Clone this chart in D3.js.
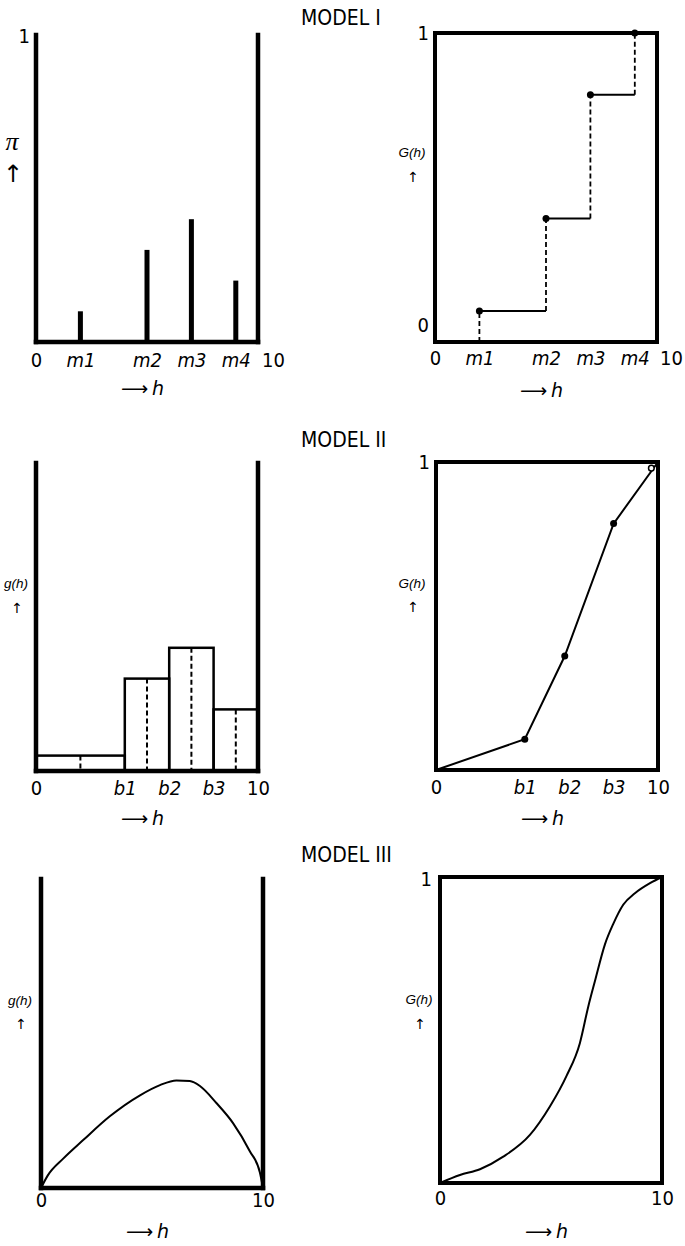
<!DOCTYPE html>
<html>
<head>
<meta charset="utf-8">
<script src="https://cdn.jsdelivr.net/npm/d3@7"></script>
<style>
  body { margin: 0; background: #fff; }
  text { font-family: "DejaVu Sans Condensed", "DejaVu Sans", sans-serif; fill: #000; }
</style>
</head>
<body>
<div id="chart"></div>
<script>
const [width, height] = [685, 1246];

// Model I: discrete masses pi at m1..m4 and the step cdf G(h)
const modelIPos = [2, 5, 7, 9];
const modelIProb = [0.10, 0.30, 0.40, 0.20];
const modelICum = [0.10, 0.40, 0.80, 1.00];
const modelITicks = [0, 2, 5, 7, 9, 10];
const modelITickLabels = ["0", "m1", "m2", "m3", "m4", "10"];

// Model II: histogram density g(h) with breakpoints b1..b3, piecewise linear G(h)
const modelIIEdges = [0, 4, 6, 8, 10];
const modelIIDensity = [0.05, 0.30, 0.40, 0.20];
const modelIIMids = [2, 5, 7, 9];
const modelIITickLabels = ["0", "b1", "b2", "b3", "10"];
const modelIIcdfH = [0, 4, 5.8, 8, 10];
const modelIIcdfG = [0, 0.10, 0.37, 0.80, 1.00];
const modelIIOpen = [9.7, 0.98];

// Model III: smooth density g(h) and smooth cdf G(h)
const modelIIIDensH = [0, 0.3, 1.0, 1.9, 3.1, 4.46, 5.36, 6.1, 6.7, 7.16, 7.9, 8.65, 9.4, 9.86, 10];
const modelIIIDensG = [0, 0.04, 0.095, 0.155, 0.232, 0.300, 0.333, 0.348, 0.346, 0.33, 0.275, 0.21, 0.12, 0.05, 0];
const modelIIICdfH = [0, 0.9, 1.8, 2.85, 4.05, 4.95, 5.7, 6.3, 6.68, 6.98, 7.43, 7.8, 8.26, 8.78, 9.46, 10];
const modelIIICdfG = [0, 0.026, 0.045, 0.086, 0.157, 0.25, 0.35, 0.457, 0.577, 0.66, 0.78, 0.846, 0.91, 0.947, 0.98, 1.0];
const modelIIITicks = [0, 10];
const modelIIITickLabels = ["0", "10"];

const titles = ["MODEL I", "MODEL II", "MODEL III"];

const svg = d3.select("#chart")
    .append("svg")
    .attr("width", width)
    .attr("height", height);

// panel frames (pixel layout)
const panels = [
    {x0: 36,  top: 35,  bottom: 342, hy: 53},
    {x0: 435, top: 33,  bottom: 342, hy: 55},
    {x0: 36,  top: 463, bottom: 771, hy: 54},
    {x0: 436, top: 462, bottom: 770, hy: 55},
    {x0: 41,  top: 879, bottom: 1188, hy: 50},
    {x0: 440, top: 877, bottom: 1183, hy: 55}
];
const titleY = [25, 447, 862];

function scales(p) {
    const x = d3.scaleLinear().domain([0, 10]).range([p.x0, p.x0 + 222]);
    const y = d3.scaleLinear().domain([0, 1]).range([p.bottom, p.top]);
    return [x, y];
}

function ticks(x, p, values, labels, dy, lastDx) {
    const axis = d3.axisBottom(x)
        .tickValues(values)
        .tickFormat((d, i) => labels[i])
        .tickSize(0);
    const g = svg.append("g")
        .attr("transform", `translate(0, ${p.bottom})`)
        .call(axis)
        .attr("font-size", null)
        .attr("font-family", null);
    g.select(".domain").remove();
    g.selectAll("text")
        .attr("dy", null)
        .attr("y", dy)
        .style("font-size", "20px")
        .style("font-style", (d, i) => /[a-z]/.test(labels[i]) ? "italic" : "normal");
    if (lastDx) g.selectAll("text").filter(d => d === 10).attr("dx", lastDx);
}

function hLabel(x, p) {
    const t = svg.append("text")
        .attr("x", x(4.8))
        .attr("y", p.bottom + p.hy)
        .attr("text-anchor", "middle")
        .style("font-family", "'DejaVu Sans', sans-serif")
        .style("font-size", "19px");
    t.append("tspan").text("\u27F6\u2009");
    t.append("tspan").style("font-style", "italic").text("h");
}

function yName(cx, cy, name, arrowY, big) {
    svg.append("text")
        .attr("x", cx).attr("y", cy)
        .attr("text-anchor", "middle")
        .style("font-family", big ? "'Liberation Serif', serif" : "'Liberation Sans', Arial, sans-serif")
        .style("font-style", "italic")
        .style("font-size", big ? "26px" : "13.5px")
        .text(name);
    svg.append("text")
        .attr("x", cx + 1).attr("y", arrowY)
        .attr("text-anchor", "middle")
        .style("font-family", "'DejaVu Sans', sans-serif")
        .style("fill", "#000")
        .style("font-size", big ? "24px" : "14px")
        .text("\u2191");
}

function openAxes(x, y) {
    const g = svg.append("g")
        .attr("stroke", "#000")
        .attr("stroke-width", 4.5)
        .attr("stroke-linecap", "square");
    [0, 10].forEach(v => g.append("line")
        .attr("x1", x(v)).attr("x2", x(v))
        .attr("y1", y(0)).attr("y2", y(1)));
    g.append("line")
        .attr("x1", x(0)).attr("x2", x(10))
        .attr("y1", y(0)).attr("y2", y(0));
}

function box(x, y) {
    svg.append("rect")
        .attr("x", x(0)).attr("y", y(1))
        .attr("width", x(10) - x(0))
        .attr("height", y(0) - y(1))
        .attr("fill", "none")
        .attr("stroke", "#000")
        .attr("stroke-width", 4);
}

function oneLabel(x, y, dx, text, cy) {
    svg.append("text")
        .attr("x", x(0) + dx)
        .attr("y", cy)
        .attr("dy", "0.36em")
        .attr("text-anchor", "end")
        .style("font-size", "20px")
        .text(text);
}

// titles
titles.forEach((t, i) => svg.append("text")
    .attr("x", 301).attr("y", titleY[i])
    .style("font-size", "21px")
    .text(t));

// ---------- Model I, left: masses ----------
{
    const p = panels[0];
    const [x, y] = scales(p);
    svg.append("g").selectAll("rect")
        .data(modelIPos)
        .join("rect")
        .attr("x", d => x(d) - 2.5)
        .attr("width", 5)
        .attr("y", (d, i) => y(modelIProb[i]))
        .attr("height", (d, i) => y(0) - y(modelIProb[i]));
    openAxes(x, y);
    ticks(x, p, modelITicks, modelITickLabels, 25, 15);
    hLabel(x, p);
    oneLabel(x, y, -6, "1", y(1) + 1);
    yName(12, 150, "\u03C0", 182, true);
}

// ---------- Model I, right: step cdf ----------
{
    const p = panels[1];
    const [x, y] = scales(p);
    box(x, y);
    const g = svg.append("g").attr("stroke", "#000").attr("fill", "none");
    modelIPos.forEach((m, i) => {
        const prev = i === 0 ? 0 : modelICum[i - 1];
        g.append("line")
            .attr("x1", x(m)).attr("x2", x(m))
            .attr("y1", y(prev)).attr("y2", y(modelICum[i]))
            .attr("stroke-width", 1.8)
            .attr("stroke-dasharray", "5,3");
        if (i < modelIPos.length - 1) {
            g.append("line")
                .attr("x1", x(m)).attr("x2", x(modelIPos[i + 1]))
                .attr("y1", y(modelICum[i])).attr("y2", y(modelICum[i]))
                .attr("stroke-width", 2);
        }
    });
    svg.append("g").selectAll("circle")
        .data(modelIPos)
        .join("circle")
        .attr("cx", d => x(d))
        .attr("cy", (d, i) => y(modelICum[i]))
        .attr("r", 3.5);
    ticks(x, p, modelITicks, modelITickLabels, 23, 14);
    hLabel(x, p);
    oneLabel(x, y, -6, "1", y(1));
    oneLabel(x, y, -6, "0", y(0) - 17);
    yName(412, 157, "G(h)", 182, false);
}

// ---------- Model II, left: histogram ----------
{
    const p = panels[2];
    const [x, y] = scales(p);
    const bins = modelIIDensity.map((d, i) => ({lo: modelIIEdges[i], hi: modelIIEdges[i + 1], g: d, mid: modelIIMids[i]}));
    svg.append("g").selectAll("rect")
        .data(bins)
        .join("rect")
        .attr("x", d => x(d.lo))
        .attr("width", d => x(d.hi) - x(d.lo))
        .attr("y", d => y(d.g))
        .attr("height", d => y(0) - y(d.g))
        .attr("fill", "none")
        .attr("stroke", "#000")
        .attr("stroke-width", 2.5);
    svg.append("g").selectAll("line")
        .data(bins)
        .join("line")
        .attr("x1", d => x(d.mid)).attr("x2", d => x(d.mid))
        .attr("y1", d => y(d.g)).attr("y2", y(0))
        .attr("stroke", "#000")
        .attr("stroke-width", 2)
        .attr("stroke-dasharray", "5,3");
    openAxes(x, y);
    ticks(x, p, modelIIEdges, modelIITickLabels, 24);
    hLabel(x, p);
    yName(16, 588, "g(h)", 613, false);
}

// ---------- Model II, right: piecewise linear cdf ----------
{
    const p = panels[3];
    const [x, y] = scales(p);
    box(x, y);
    const pts = modelIIcdfH.map((h, i) => [h, modelIIcdfG[i]]);
    svg.append("path")
        .datum(pts)
        .attr("fill", "none")
        .attr("stroke", "#000")
        .attr("stroke-width", 2)
        .attr("d", d3.line().x(d => x(d[0])).y(d => y(d[1])));
    svg.append("g").selectAll("circle")
        .data(pts.slice(1, 4))
        .join("circle")
        .attr("cx", d => x(d[0]))
        .attr("cy", d => y(d[1]))
        .attr("r", 3.5);
    svg.append("circle")
        .attr("cx", x(modelIIOpen[0]))
        .attr("cy", y(modelIIOpen[1]))
        .attr("r", 2.8)
        .attr("fill", "#fff")
        .attr("stroke", "#000")
        .attr("stroke-width", 1.5);
    ticks(x, p, modelIIEdges, modelIITickLabels, 24);
    hLabel(x, p);
    oneLabel(x, y, -6, "1", y(1));
    yName(412, 588, "G(h)", 612, false);
}

// ---------- Model III, left: smooth density ----------
{
    const p = panels[4];
    const [x, y] = scales(p);
    const pts = modelIIIDensH.map((h, i) => [h, modelIIIDensG[i]]);
    svg.append("path")
        .datum(pts)
        .attr("fill", "none")
        .attr("stroke", "#000")
        .attr("stroke-width", 2)
        .attr("d", d3.line().curve(d3.curveMonotoneX).x(d => x(d[0])).y(d => y(d[1])));
    openAxes(x, y);
    ticks(x, p, modelIIITicks, modelIIITickLabels, 19);
    hLabel(x, p);
    yName(20, 1005, "g(h)", 1029, false);
}

// ---------- Model III, right: smooth cdf ----------
{
    const p = panels[5];
    const [x, y] = scales(p);
    box(x, y);
    const pts = modelIIICdfH.map((h, i) => [h, modelIIICdfG[i]]);
    svg.append("path")
        .datum(pts)
        .attr("fill", "none")
        .attr("stroke", "#000")
        .attr("stroke-width", 2)
        .attr("d", d3.line().curve(d3.curveMonotoneX).x(d => x(d[0])).y(d => y(d[1])));
    ticks(x, p, modelIIITicks, modelIIITickLabels, 22);
    hLabel(x, p);
    oneLabel(x, y, -8, "1", y(1) + 2);
    yName(419, 1004, "G(h)", 1029, false);
}
</script>
</body>
</html>
